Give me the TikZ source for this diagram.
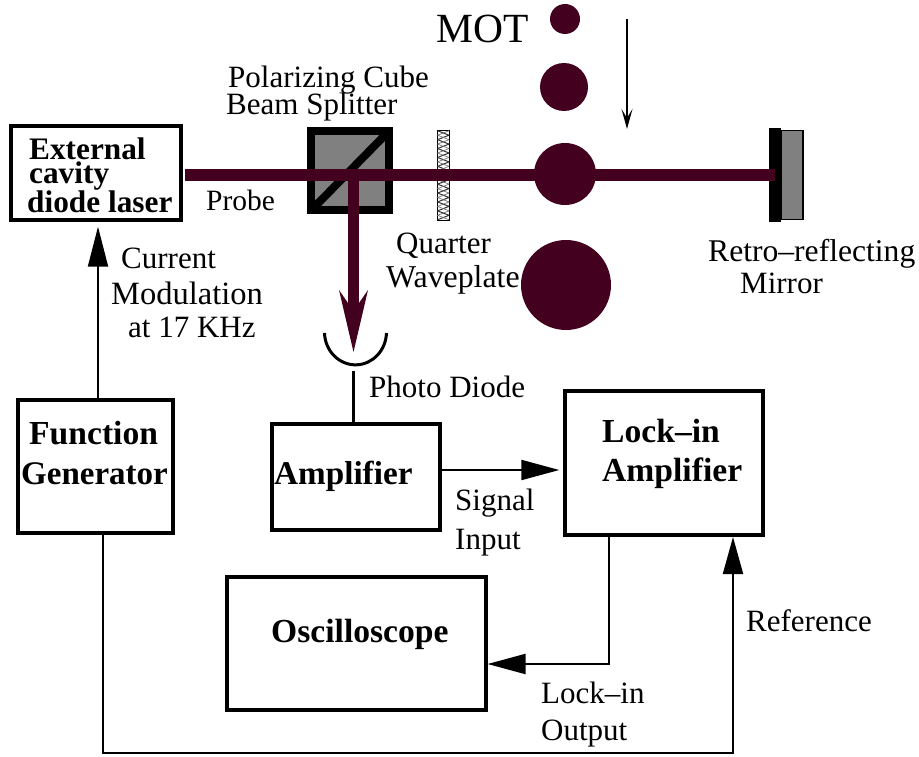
\documentclass[tikz,border=0pt]{standalone}
\usepackage{fontspec}
\setmainfont{Liberation Serif}
\usetikzlibrary{arrows.meta,calc}
\definecolor{beam}{HTML}{43001F}
\definecolor{cubegray}{HTML}{808080}
\tikzset{
  box/.style={draw=black,line width=#1,fill=none,inner sep=0pt,rectangle},
  box/.default=3pt,
  txt/.style={anchor=base west,inner sep=0pt,font=\fontsize{31}{32}\selectfont},
  btxt/.style={anchor=base west,inner sep=0pt,font=\fontsize{33.6}{34}\selectfont\bfseries},
  lasertxt/.style={anchor=base west,inner sep=0pt,font=\fontsize{31.3}{32}\selectfont\bfseries},
  ball/.style={circle,fill=beam,inner sep=0pt,draw=none},
  conn/.style={line width=2pt,draw=black},
  arr/.style={conn,-{Triangle[length=38pt,width=20pt]}},
  beamline/.style={line width=12.5pt,draw=beam},
}
\begin{document}
\begin{tikzpicture}[x=1pt,y=-1pt]
\useasboundingbox (0,0) rectangle (919,757);
% helper levels
\coordinate (yb) at (0,175);
\coordinate (ya) at (0,470);
\coordinate (yo) at (0,664);
\coordinate (ybot) at (0,753);
\coordinate (xl) at (608.5,0);
\coordinate (xf) at (103,0);
\coordinate (xr) at (733,0);
\coordinate (xp) at (353.5,0);
% boxes
\node[box=4pt,minimum width=170pt,minimum height=94pt] (laser) at (96,173) {};
\node[box=3.5pt,minimum width=155pt,minimum height=133pt] (fg) at (95.5,466.5) {};
\node[box=4pt,minimum width=168pt,minimum height=106pt] (amp) at (356,477) {};
\node[box=4pt,minimum width=198pt,minimum height=144pt] (lockin) at (664,463) {};
\node[box=4pt,minimum width=258.5pt,minimum height=133pt] (osc) at (356.3,643.5) {};
% MOT clouds
\node[ball,minimum size=30pt] (m1) at (565,19) {};
\node[ball,minimum size=48pt] (m2) at (564,87) {};
\node[ball,minimum size=90pt] (m4) at (566,285) {};
% cube
\node[draw=black,line width=8pt,fill=cubegray,minimum width=78pt,minimum height=79.5pt,inner sep=0pt] (cube) at (350,170.75) {};
\draw[line width=8pt,black] ($(cube.south west)+(4,-4)$) coordinate (d1) -- ($(cube.north east)+(-4,4)$) coordinate (d2);
% waveplate
\node[draw=black,line width=1.5pt,fill=white,minimum width=12pt,minimum height=90pt,inner sep=0pt] (wp) at (443.3,175.5) {};
\foreach \i in {0,...,9}{
  \draw[line width=1pt,black!80,line join=bevel]
    ($(wp.north west)+(1,1+\i*8.9)$) -- ($(wp.north east)+(-1,1+\i*8.9+4.45)$) -- ($(wp.north west)+(1,1+\i*8.9+8.9)$);
  \draw[line width=.7pt,black!55]
    ($(wp.north east)+(-1,1+\i*8.9)$) -- ($(wp.north west)+(1,1+\i*8.9+4.45)$) -- ($(wp.north east)+(-1,1+\i*8.9+8.9)$);
}
% mirror
\node[draw=black,line width=1.5pt,fill=cubegray,minimum width=22pt,minimum height=89pt,inner sep=0pt] (mirg) at (792,175) {};
\node[fill=black,minimum width=12.5pt,minimum height=93.5pt,inner sep=0pt] (mirb) at (775.2,175) {};
% beams
\draw[beamline] ([xshift=1.5pt]laser.east |- yb) coordinate (b0) -- (mirb.center |- yb);
\node[ball,minimum size=62pt] (m3) at (565,174) {};
\coordinate (tip) at (353.5,352);
\draw[line width=11.5pt,draw=beam] (xp |- yb) -- (353.5,312);
\fill[beam] (tip) -- (368,290) -- (353.5,311) -- (339,290) -- cycle;
% photodiode
\draw[line width=3pt,black] (324.5,333) arc[start angle=178,end angle=2,x radius=31,y radius=33] coordinate (pdend);
\coordinate (pd) at (353,371);
\draw[line width=3pt,black] (pd) -- (pd |- amp.north);
% connectors
\draw[conn,-{Triangle[length=40pt,width=20pt]}] ([xshift=2.5pt]fg.north) -- ([xshift=2pt,yshift=-4.7pt]laser.south);
\draw[arr] (amp.east |- ya) -- ([xshift=-3.7pt]lockin.west |- ya);
\draw[arr] (xl |- lockin.south) |- (osc.east |- yo);
\draw[conn,-{Triangle[length=37pt,width=20pt]}] (xf |- fg.south) |- (xr |- ybot) -- (xr |- lockin.south);
\coordinate (mota) at (627,19);
\coordinate (motb) at (627,129);
\draw[line width=1.5pt,-{Stealth[length=20pt,width=11pt,inset=9pt]}] (mota) -- (motb);
% labels
\node[txt,font=\fontsize{41.5}{42}\selectfont] (tmot) at (436,43) {MOT};
\node[txt] (t1) at (228,88) {Polarizing Cube};
\node[txt] (t2) at (226,115) {Beam Splitter};
\node[lasertxt] (t3) at (29,160) {External};
\node[lasertxt] (t4) at (29,183) {cavity};
\node[lasertxt] (t5) at (27,213) {diode laser};
\node[txt,font=\fontsize{29.5}{30}\selectfont] (t6) at (206,211) {Probe};
\node[txt] (t7) at (396,253) {Quarter};
\node[txt,font=\fontsize{31.8}{32}\selectfont] (t8) at (386,287) {Waveplate};
\node[txt] (t9) at (121,269) {Current};
\node[txt,font=\fontsize{32.5}{33}\selectfont] (t10) at (111,304) {Modulation};
\node[txt] (t11) at (128,337) {at 17 KHz};
\node[txt,font=\fontsize{31.6}{32}\selectfont] (t12) at (708,261) {Retro--reflecting};
\node[txt] (t13) at (740,293) {Mirror};
\node[txt] (t14) at (369,397) {Photo Diode};
\node[btxt] (t15) at (29,444) {Function};
\node[btxt,font=\fontsize{33}{34}\selectfont\bfseries] (t16) at (21,484) {Generator};
\node[btxt,font=\fontsize{33.2}{34}\selectfont\bfseries] (t17) at (274,484) {Amplifier};
\node[btxt] (t18) at (602,442) {Lock--in};
\node[btxt] (t19) at (602,481) {Amplifier};
\node[txt] (t20) at (455,510) {Signal};
\node[txt] (t21) at (455,549) {Input};
\node[btxt] (t22) at (271,642) {Oscilloscope};
\node[txt] (t23) at (541,703) {Lock--in};
\node[txt] (t24) at (541,740) {Output};
\node[txt] (t25) at (746,631) {Reference};
\end{tikzpicture}
\end{document}
